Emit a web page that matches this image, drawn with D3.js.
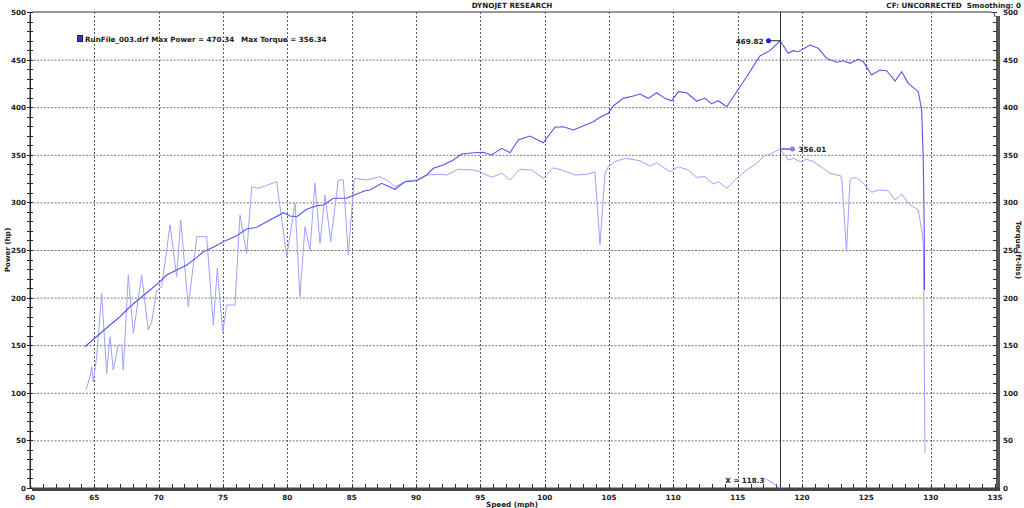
<!DOCTYPE html>
<html><head><meta charset="utf-8">
<script src="https://cdn.jsdelivr.net/npm/d3@7"></script>
<style>
html,body{margin:0;padding:0;background:#fff;}
svg text{font-family:"DejaVu Sans",Verdana,sans-serif;font-weight:bold;fill:#222;white-space:pre;}
</style></head>
<body><svg id="c" width="1024" height="508"></svg>
<script>
// ---- data ----
const powerSpeed = [64.27,65.31,66.22,66.99,67.77,68.55,69.33,70.10,70.62,71.40,72.18,72.96,73.47,74.25,75.02,76.06,76.84,77.62,78.40,79.69,80.21,80.73,81.50,82.28,82.80,83.57,84.61,85.39,86.04,86.42,87.33,88.37,89.14,90.05,90.83,91.34,92.12,92.90,93.55,94.45,95.23,95.88,96.66,97.30,97.95,98.86,99.89,100.80,101.45,102.22,103.78,104.30,104.94,105.33,106.11,106.89,107.41,108.05,108.70,109.35,109.87,110.38,111.04,111.81,112.46,112.98,113.49,114.15,114.92,115.70,116.73,117.51,118.30,118.93,119.32,119.71,120.62,121.26,121.92,122.69,123.21,123.73,124.37,124.76,125.41,126.06,126.58,127.23,127.75,128.26,129.04,129.30,129.43,129.50,129.52];
const powerHp = [148.4,160.7,171.2,179.9,190.4,199.3,208.0,216.7,223.7,229.0,234.2,242.3,248.2,252.8,258.7,265.0,272.1,273.8,279.7,289.2,285.7,285.0,292.7,296.5,297.3,304.3,304.3,308.8,312.3,313.0,320.1,313.8,321.7,322.8,328.8,335.8,339.3,344.5,350.8,352.2,352.6,349.8,356.8,352.2,365.5,369.7,362.7,378.9,379.5,376.1,384.8,389.4,393.6,401.3,409.3,411.8,413.9,409.3,415.2,409.3,406.8,416.3,415.2,406.5,409.3,403.4,406.8,400.5,416.3,432.0,453.8,459.4,469.8,456.6,459.4,458.3,465.3,461.9,451.4,447.2,448.8,446.1,450.3,447.8,433.8,439.1,438.3,427.5,437.3,425.1,416.3,397.1,341.1,271.0,208.0];
const torqueSpeed = [64.35,64.66,64.80,64.92,65.18,65.57,65.96,66.22,66.47,66.86,67.13,67.25,67.64,68.03,68.68,69.19,69.46,69.85,70.24,70.88,71.40,71.71,72.30,72.96,73.73,74.25,74.56,74.98,75.29,75.93,76.32,76.84,77.23,77.74,79.17,79.95,80.60,80.98,81.37,81.76,82.15,82.54,82.93,83.37,83.96,84.35,84.74,85.20,86.17,87.20,87.72,88.37,89.28,90.05,90.83,91.86,92.38,93.28,94.45,94.97,95.88,96.66,97.30,98.08,98.99,99.89,100.67,101.32,102.36,103.27,103.91,104.30,104.69,104.94,105.46,106.24,107.41,108.19,108.70,109.74,110.38,111.16,111.81,112.46,113.10,113.49,114.15,114.92,115.70,116.48,116.99,117.64,118.30,118.93,119.32,119.84,120.36,120.88,121.65,122.17,123.00,123.10,123.46,123.73,123.86,124.25,124.64,125.41,125.93,126.71,127.23,127.75,128.26,129.04,129.30,129.43,129.56];
const torqueFtlb = [102.9,116.9,127.4,111.7,137.9,204.5,120.5,158.9,124.0,150.2,150.2,124.0,223.7,162.5,223.7,166.0,174.7,208.0,211.4,276.3,222.0,281.5,190.4,264.0,264.0,171.2,230.8,163.1,192.2,192.2,286.8,246.5,316.5,314.8,321.7,243.0,299.1,201.0,274.5,250.0,320.1,257.0,307.8,258.7,323.5,323.5,244.7,325.3,323.5,327.0,323.5,316.5,322.5,323.5,328.8,329.5,328.8,334.8,334.0,332.2,326.4,330.6,323.5,334.8,334.0,325.3,336.4,334.0,328.8,329.5,332.2,255.3,330.6,337.5,342.8,346.3,343.8,338.2,341.7,332.2,337.5,334.0,326.4,327.0,319.3,321.7,314.8,325.3,334.0,341.1,348.0,351.6,356.0,344.5,346.3,342.8,345.3,342.8,335.8,330.6,328.0,323.5,248.2,323.5,325.3,325.9,321.7,310.6,313.0,312.3,302.5,308.8,299.1,292.0,271.0,257.0,36.8];
const xTicks = [60,65,70,75,80,85,90,95,100,105,110,115,120,125,130,135];
const yTicks = [0,50,100,150,200,250,300,350,400,450,500];
const cursorX = 118.3;
const peakPower = 469.82, peakTorque = 356.01;
const titleText = "DYNOJET RESEARCH";
const cfText = "CF: UNCORRECTED  Smoothing: 0";
const legendText1 = "RunFile_003.drf Max Power = 470.34";
const legendText2 = "Max Torque = 356.34";

// ---- chart ----
const svg = d3.select("#c");
const x = d3.scaleLinear().domain([60,135]).range([30,995]);
const y = d3.scaleLinear().domain([0,500]).range([488,12]);
const FS = 7.2;

// frame top line with rounded corner
svg.append("path")
  .attr("d", `M${x(60)},${y(0)} L${x(60)},${y(500)+3} Q${x(60)},${y(500)} ${x(60)+3},${y(500)} L${x(135)-5},${y(500)} Q${x(135)},${y(500)} ${x(135)},${y(500)+5}`)
  .attr("fill","none").attr("stroke","#333").attr("stroke-width",1);

// grid
const g = svg.append("g");
g.selectAll("line.h").data(yTicks.filter(v=>v>0&&v<500)).join("line")
  .attr("x1",x(60)).attr("x2",x(135)).attr("y1",d=>y(d)+0.5).attr("y2",d=>y(d)+0.5)
  .attr("stroke","#777").attr("stroke-dasharray","2,1.5").attr("stroke-width",1);
g.selectAll("line.v").data(xTicks.filter(v=>v>60&&v<135)).join("line")
  .attr("x1",d=>Math.round(x(d))+0.5).attr("x2",d=>Math.round(x(d))+0.5).attr("y1",y(500)).attr("y2",y(0))
  .attr("stroke","#555").attr("stroke-dasharray","2,2").attr("stroke-width",1);

// left axis
const left = svg.append("g");
left.append("line").attr("x1",x(60)+0.5).attr("x2",x(60)+0.5).attr("y1",y(500)+3).attr("y2",y(0)).attr("stroke","#222");
left.selectAll("line.t").data(d3.range(0,501,10)).join("line")
  .attr("x1",x(60)-3).attr("x2",x(60)+3).attr("y1",d=>Math.round(y(d))+0.5).attr("y2",d=>Math.round(y(d))+0.5)
  .attr("stroke","#222");
left.selectAll("text").data(yTicks).join("text")
  .attr("x",x(60)-4).attr("y",d=>y(d)+3).attr("text-anchor","end").attr("font-size",FS).text(d=>d);

// right axis
const right = svg.append("g");
right.append("rect").attr("x",x(135)+1).attr("y",y(500)+4).attr("width",4).attr("height",y(0)-y(500)-4).attr("fill","#555");
right.selectAll("line.t").data(d3.range(0,501,10)).join("line")
  .attr("x1",x(135)-2).attr("x2",x(135)+2).attr("y1",d=>Math.round(y(d))+0.5).attr("y2",d=>Math.round(y(d))+0.5)
  .attr("stroke","#333");
right.selectAll("text").data(yTicks).join("text")
  .attr("x",x(135)+8).attr("y",d=>y(d)+3).attr("text-anchor","start").attr("font-size",FS).text(d=>d);

// bottom axis
const bot = svg.append("g");
bot.append("rect").attr("x",x(60)+2).attr("y",y(0)-0.5).attr("width",x(135)-x(60)+3).attr("height",3.5).attr("fill","#444");
bot.append("path").attr("d",`M${x(60)},${y(0)-3} L${x(60)+3},${y(0)+1}`).attr("stroke","#444").attr("fill","none");
bot.selectAll("line.t").data(d3.range(60,136,1)).join("line")
  .attr("x1",d=>Math.round(x(d))+0.5).attr("x2",d=>Math.round(x(d))+0.5).attr("y1",y(0)-4).attr("y2",y(0))
  .attr("stroke","#333");
bot.selectAll("text").data(xTicks).join("text")
  .attr("x",d=>x(d)).attr("y",y(0)+12).attr("text-anchor","middle").attr("font-size",FS).text(d=>d);

// titles
svg.append("text").attr("x",512).attr("y",8).attr("text-anchor","middle").attr("font-size",FS).text(titleText);
svg.append("text").attr("x",1021).attr("y",8).attr("text-anchor","end").attr("font-size",FS).text(cfText);
svg.append("text").attr("x",512).attr("y",507).attr("text-anchor","middle").attr("font-size",FS).text("Speed (mph)");
svg.append("text").attr("transform",`translate(10,${(y(0)+y(500))/2}) rotate(-90)`).attr("text-anchor","middle").attr("font-size",FS).text("Power (hp)");
svg.append("text").attr("transform",`translate(1016,${(y(0)+y(500))/2}) rotate(90)`).attr("text-anchor","middle").attr("font-size",FS).text("Torque (ft-lbs)");

// legend
svg.append("rect").attr("x",77.5).attr("y",35.5).attr("width",5).attr("height",6).attr("fill","#3333ee").attr("stroke","#223");
svg.append("text").attr("x",85).attr("y",42).attr("font-size",FS).text(legendText1);
svg.append("text").attr("x",241).attr("y",42).attr("font-size",FS).text(legendText2);

// curves
const line = d3.line().x(d=>x(d[0])).y(d=>y(d[1]));
svg.append("path").datum(torqueSpeed.map((s,i)=>[s,torqueFtlb[i]]))
  .attr("d",line).attr("fill","none").attr("stroke","#a0a0ff").attr("stroke-width",1);
svg.append("path").datum(powerSpeed.map((s,i)=>[s,powerHp[i]]))
  .attr("d",line).attr("fill","none").attr("stroke","#5555f2").attr("stroke-width",1.1);

// cursor
const cx = Math.round(x(cursorX))+0.5;
svg.append("line").attr("x1",cx).attr("x2",cx).attr("y1",y(500)).attr("y2",y(0)).attr("stroke","#333").attr("stroke-width",1);
svg.append("line").attr("x1",cx-16).attr("x2",cx).attr("y1",y(0)-10).attr("y2",y(0)).attr("stroke","#a0a0ff");
svg.append("text").attr("x",cx-16).attr("y",y(0)-5).attr("text-anchor","end").attr("font-size",FS).text("X = "+cursorX);

// peak annotations
const py = y(peakPower);
svg.append("line").attr("x1",cx-12).attr("x2",cx).attr("y1",py).attr("y2",py).attr("stroke","#222");
svg.append("circle").attr("cx",cx-12).attr("cy",py).attr("r",2.5).attr("fill","#1a1aff");
svg.append("text").attr("x",cx-17).attr("y",py+3).attr("text-anchor","end").attr("font-size",FS).text(peakPower.toFixed(2));
const ty = y(peakTorque);
svg.append("line").attr("x1",cx).attr("x2",cx+12).attr("y1",ty).attr("y2",ty).attr("stroke","#8080ff").attr("stroke-width",2);
svg.append("circle").attr("cx",cx+12).attr("cy",ty).attr("r",2.5).attr("fill","#8080ff");
svg.append("text").attr("x",cx+18).attr("y",ty+3).attr("text-anchor","start").attr("font-size",FS).text(peakTorque.toFixed(2));
</script></body></html>
